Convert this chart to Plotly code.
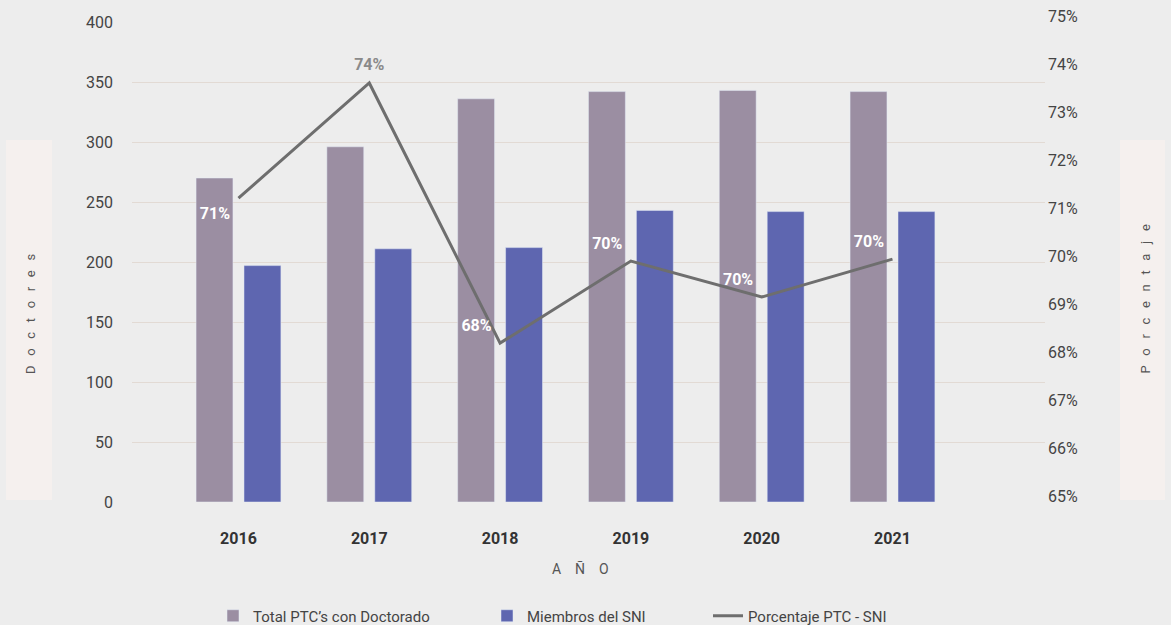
import plotly.graph_objects as go

years = ["2016", "2017", "2018", "2019", "2020", "2021"]
total_ptc = [270, 296, 336, 342, 343, 342]
miembros_sni = [197, 211, 212, 243, 242, 242]
porcentaje = [71.33, 73.73, 68.31, 70.02, 69.27, 70.06]
etiquetas = ["71%", "74%", "68%", "70%", "70%", "70%"]
label_pos = ["bottom left", "top center", "top left", "top left", "top left", "top left"]
label_colors = ["white", "#8a8a8a", "white", "white", "white", "white"]

W, H = 1171, 625
L, R, T, B = 132, 126, 22, 123
PW, PH = W - L - R, H - T - B


def px_x(x):
    return (x - L) / PW


def px_y(y):
    return (H - B - y) / PH


FONT = "Roboto, Arial, sans-serif"
GRAY_BAR = "#9b8ea2"
BLUE_BAR = "#5e66b0"
LINE = "#6e6e6e"

fig = go.Figure()
fig.add_trace(go.Bar(
    x=years, y=total_ptc, name="Total PTC’s con Doctorado",
    marker_color=GRAY_BAR, legend="legend",
))
fig.add_trace(go.Bar(
    x=years, y=miembros_sni, name="Miembros del SNI",
    marker_color=BLUE_BAR, legend="legend2",
))
fig.add_trace(go.Scatter(
    x=years, y=porcentaje, name="Porcentaje PTC - SNI", yaxis="y2",
    mode="lines+markers+text", text=etiquetas, textposition=label_pos,
    textfont=dict(family=FONT, size=16, color=label_colors, weight="bold"),
    marker=dict(size=12, color="rgba(0,0,0,0)"),
    line=dict(color=LINE, width=3), legend="legend3",
))

# side boxes behind the axis titles
box_col = "#f5f0ee"
for x0, x1 in [(6, 52), (1120, 1165)]:
    fig.add_shape(type="rect", xref="paper", yref="paper",
                  x0=px_x(x0), x1=px_x(x1), y0=px_y(500), y1=px_y(140),
                  fillcolor=box_col, line_width=0, layer="below")

sp = "\u00a0\u00a0\u00a0"
fig.add_annotation(text=sp.join("Doctores"), textangle=-90, xref="paper", yref="paper",
                   x=px_x(30), y=px_y(376), xanchor="center", yanchor="bottom",
                   showarrow=False, font=dict(family=FONT, size=13, color="#555555"))
fig.add_annotation(text=sp.join("Porcentaje"), textangle=-90, xref="paper", yref="paper",
                   x=px_x(1145), y=px_y(376), xanchor="center", yanchor="bottom",
                   showarrow=False, font=dict(family=FONT, size=13, color="#555555"))
fig.add_annotation(text="\u00a0\u00a0\u00a0\u00a0".join("AÑO"), xref="paper", yref="paper",
                   x=px_x(580), y=px_y(568), xanchor="center", yanchor="middle",
                   showarrow=False, font=dict(family=FONT, size=14, color="#555555"))

# legends in container coords so they do not push the bottom margin
legend_style = dict(orientation="h", xref="container", yref="container",
                    yanchor="middle", y=(H - 616) / H, xanchor="left",
                    bgcolor="rgba(0,0,0,0)",
                    font=dict(family=FONT, size=15, color="#444444"))

fig.update_layout(
    width=W, height=H,
    margin=dict(l=L, r=R, t=T, b=B),
    paper_bgcolor="#ededed",
    plot_bgcolor="rgba(0,0,0,0)",
    showlegend=True,
    barmode="group", bargap=0.267, bargroupgap=0.23,
    xaxis=dict(
        type="category", range=[-0.814, 6.166], showgrid=False, showline=False,
        ticks="", ticklabelstandoff=25, automargin=False,
        tickfont=dict(family=FONT, size=16, color="#333333", weight="bold"),
    ),
    yaxis=dict(
        range=[0, 400], dtick=50, showgrid=True, gridcolor="#e2dad4", gridwidth=1,
        zeroline=False, showline=False, ticks="", ticklabelstandoff=18,
        automargin=False,
        tickfont=dict(family=FONT, size=16, color="#444444"),
    ),
    yaxis2=dict(
        range=[65, 75], dtick=1, overlaying="y", side="right", showgrid=False,
        zeroline=False, showline=False, ticks="", ticksuffix="%",
        ticklabelshift=-6, ticklabelstandoff=2, automargin=False,
        tickfont=dict(family=FONT, size=16, color="#444444"),
    ),
    legend=dict(x=213 / W, **legend_style),
    legend2=dict(x=487 / W, **legend_style),
    legend3=dict(x=708 / W, **legend_style),
)

fig.write_html("out.html", config={"displayModeBar": False},
               post_script="document.body.style.margin='0';")
